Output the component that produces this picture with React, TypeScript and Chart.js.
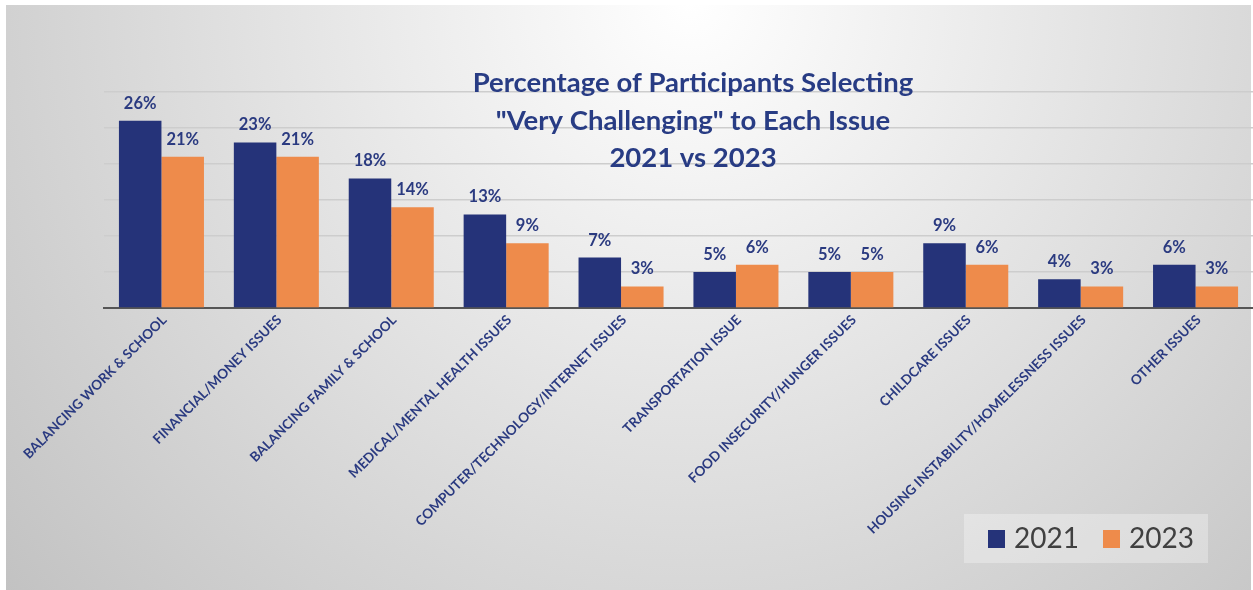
import React, { useEffect, useRef } from "react";
import { Chart, registerables } from "chart.js";

Chart.register(...registerables);

const CATEGORIES = [
  "BALANCING WORK & SCHOOL",
  "FINANCIAL/MONEY ISSUES",
  "BALANCING FAMILY & SCHOOL",
  "MEDICAL/MENTAL HEALTH ISSUES",
  "COMPUTER/TECHNOLOGY/INTERNET ISSUES",
  "TRANSPORTATION ISSUE",
  "FOOD INSECURITY/HUNGER ISSUES",
  "CHILDCARE ISSUES",
  "HOUSING INSTABILITY/HOMELESSNESS ISSUES",
  "OTHER ISSUES",
];
const SERIES_NAMES = ["2021", "2023"];
const VALUES_2021 = [26, 23, 18, 13, 7, 5, 5, 9, 4, 6];
const VALUES_2023 = [21, 21, 14, 9, 3, 6, 5, 6, 3, 3];
const Y_MAX = 30;
const Y_STEP = 5;
const TITLE_LINES = [
  "Percentage of Participants Selecting",
  '"Very Challenging" to Each Issue',
  "2021 vs 2023",
];

const NAVY = "#253379";
const ORANGE = "#EE8B4B";
const TEXT_NAVY = "#2A3A80";

const W = 1253;
const H = 590;

const backgroundPlugin = {
  id: "bg",
  beforeDraw(chart: any) {
    const ctx = chart.ctx;
    ctx.save();
    ctx.fillStyle = "#ffffff";
    ctx.fillRect(0, 0, W, H);
    const g = ctx.createRadialGradient(690, 0, 0, 690, 0, 950);
    g.addColorStop(0, "#ffffff");
    g.addColorStop(1, "#bfbfbf");
    ctx.fillStyle = g;
    ctx.fillRect(6, 5, W - 8, H - 5);
    ctx.restore();
  },
};

const titlePlugin = {
  id: "customTitle",
  afterDraw(chart: any) {
    const ctx = chart.ctx;
    ctx.save();
    ctx.fillStyle = "#283C84";
    ctx.font = "bold 27.5px Lato";
    ctx.textAlign = "center";
    ctx.textBaseline = "alphabetic";
    TITLE_LINES.forEach((line, i) => {
      ctx.fillText(line, 693, 92 + i * 37.5);
    });
    ctx.restore();
  },
};

const dataLabelPlugin = {
  id: "dataLabels",
  afterDatasetsDraw(chart: any) {
    const ctx = chart.ctx;
    ctx.save();
    ctx.fillStyle = TEXT_NAVY;
    ctx.font = "bold 16.5px Lato";
    ctx.textAlign = "center";
    ctx.textBaseline = "alphabetic";
    chart.data.datasets.forEach((ds: any, di: number) => {
      const meta = chart.getDatasetMeta(di);
      meta.data.forEach((el: any, i: number) => {
        ctx.fillText(`${ds.data[i]}%`, el.x, el.y - 12);
      });
    });
    ctx.restore();
  },
};

const legendPlugin = {
  id: "customLegend",
  afterDraw(chart: any) {
    const ctx = chart.ctx;
    ctx.save();
    ctx.fillStyle = "rgba(255,255,255,0.3)";
    ctx.fillRect(964, 514, 244, 49);
    ctx.font = "28px Lato";
    ctx.textBaseline = "alphabetic";
    ctx.textAlign = "left";
    let x = 988;
    chart.data.datasets.forEach((ds: any) => {
      ctx.fillStyle = ds.backgroundColor;
      ctx.fillRect(x, 530, 17, 18);
      ctx.fillStyle = "#404040";
      ctx.fillText(ds.label, x + 26, 548);
      x += 115;
    });
    ctx.restore();
  },
};

export default function App() {
  const ref = useRef<HTMLCanvasElement | null>(null);
  useEffect(() => {
    if (!ref.current) return;
    const chart = new Chart(ref.current, {
      type: "bar",
      data: {
        labels: CATEGORIES,
        datasets: [
          { label: SERIES_NAMES[0], data: VALUES_2021, backgroundColor: NAVY },
          { label: SERIES_NAMES[1], data: VALUES_2023, backgroundColor: ORANGE },
        ],
      },
      options: {
        responsive: false,
        animation: false,
        layout: { padding: { left: 104, top: 92, right: 0, bottom: 0 } },
        datasets: {
          bar: { categoryPercentage: 0.74, barPercentage: 1.0 },
        },
        plugins: {
          legend: { display: false },
          title: { display: false },
          tooltip: { enabled: false },
        },
        scales: {
          x: {
            grid: { display: false },
            border: { display: true, color: "#555555", width: 2 },
            ticks: {
              autoSkip: false,
              minRotation: 45,
              maxRotation: 45,
              color: TEXT_NAVY,
              font: { family: "Lato", size: 13.5, weight: "bold" },
              padding: -4,
              labelOffset: 3,
            },
            afterFit(scale: any) {
              scale.height = H - 308;
            },
          },
          y: {
            min: 0,
            max: Y_MAX,
            ticks: { display: false, stepSize: Y_STEP },
            grid: { color: "#cdcdcd", lineWidth: 1.5, drawTicks: false },
            border: { display: false },
            afterFit(scale: any) {
              scale.width = 0;
            },
          },
        },
      },
      plugins: [backgroundPlugin, titlePlugin, dataLabelPlugin, legendPlugin],
    });
    return () => chart.destroy();
  }, []);
  return (
    <div style={{ position: "fixed", left: 0, top: 0, width: W, height: H }}>
      <canvas ref={ref} width={W} height={H} />
    </div>
  );
}
